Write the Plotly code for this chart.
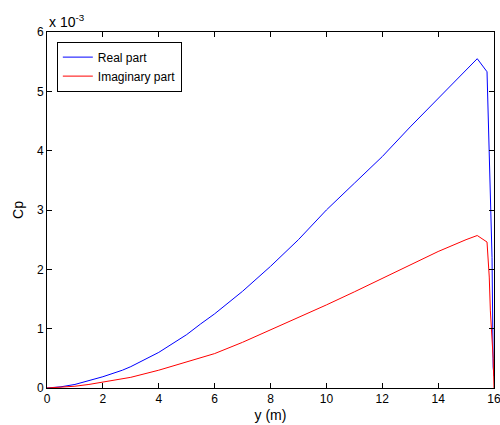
import plotly.graph_objects as go

# span position y (m)
y_pos = [0, 0.5, 1, 1.5, 2, 2.7, 3, 4, 5, 5.5, 6, 7, 8, 9, 10, 11, 12, 13, 14, 15, 15.4,
         15.75, 15.83, 15.87, 15.93, 15.97, 16]
# Cp values in units of 1e-3
real_part = [0, 0.02, 0.06, 0.12, 0.19, 0.3, 0.36, 0.6, 0.9, 1.08, 1.25, 1.63, 2.05, 2.5,
             3.0, 3.45, 3.9, 4.4, 4.88, 5.35, 5.55, 5.33, 3.98, 3.1, 2.2, 0.35, 0.2]
imag_part = [0, 0.01, 0.03, 0.06, 0.1, 0.15, 0.18, 0.3, 0.44, 0.51, 0.58, 0.77, 0.98, 1.18,
             1.4, 1.62, 1.85, 2.07, 2.3, 2.5, 2.57, 2.46, 1.87, 1.3, 0.8, 0.5, 0]

fig = go.Figure()
fig.add_trace(go.Scatter(x=y_pos, y=real_part, mode="lines", name="Real part",
                         line=dict(color="#0000ff", width=1)))
fig.add_trace(go.Scatter(x=y_pos, y=imag_part, mode="lines", name="Imaginary part",
                         line=dict(color="#ff0000", width=1)))

axis_common = dict(showline=True, linecolor="black", linewidth=1, mirror="ticks",
                   ticks="inside", ticklen=5, tickcolor="black", showgrid=False,
                   zeroline=False, ticklabeloverflow="allow", automargin=False,
                   tickfont=dict(family="Liberation Sans", size=12, color="black"))

fig.update_layout(
    width=500, height=425,
    margin=dict(l=47, r=6, t=32, b=37),
    paper_bgcolor="white", plot_bgcolor="white",
    font=dict(family="Liberation Sans", size=12, color="black"),
    xaxis=dict(range=[0, 16], tickvals=list(range(0, 17, 2)),
               title=dict(text="y (m)", standoff=4), **axis_common),
    yaxis=dict(range=[0, 6], tickvals=list(range(0, 7)),
               title=dict(text="Cp", standoff=10), **axis_common),
    legend=dict(x=0.022, y=0.973, xanchor="left", yanchor="top",
                bordercolor="black", borderwidth=1, bgcolor="white",
                font=dict(family="Liberation Sans", size=12)),
    annotations=[dict(text="x 10<sup>-3</sup>", x=0, y=1, xref="paper", yref="paper",
                      xanchor="left", yanchor="bottom", showarrow=False,
                      font=dict(family="Liberation Sans", size=14), yshift=0)],
)

fig.write_html("out.html")
